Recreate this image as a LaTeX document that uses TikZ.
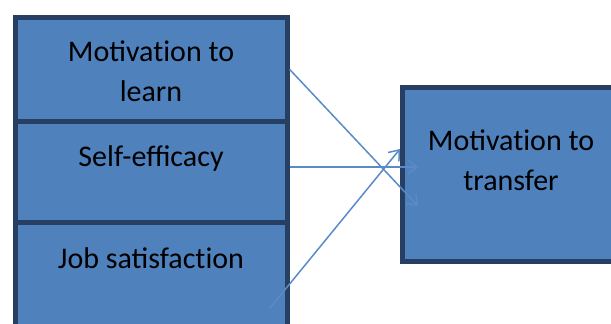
\documentclass[tikz,border=0pt]{standalone}
\usepackage{fontspec}
\setmainfont{Carlito}
\usetikzlibrary{arrows.meta,positioning}
\definecolor{boxfill}{HTML}{4F81BD}
\definecolor{boxline}{HTML}{263F62}
\definecolor{arrowblue}{HTML}{5A8AC8}

\begin{document}
\begin{tikzpicture}[x=1pt,y=-1pt,
  box/.style={draw=boxline, fill=boxfill, line width=5pt, inner sep=0pt},
  txt/.style={font=\fontsize{30}{40}\selectfont, align=center, anchor=north, inner sep=0pt},
  arr/.style={-{Straight Barb[length=9pt,width=14pt]}, draw=arrowblue, line width=1.5pt}
]
\useasboundingbox (0,0) rectangle (611,324);
\clip (0,0) rectangle (611,324);
% left column
\node[box, minimum width=271.5pt, minimum height=104.5pt] (learn) at (151.25,69.25) {};
\node[box, minimum width=271.5pt, minimum height=100.5pt] (efficacy) at (151.25,171.75) {};
\node[box, minimum width=271.5pt, minimum height=110pt] (satisf) at (151.25,277) {};
\node[txt] (learntxt) at (151,40.5) {Motivat\kern0pt ion to\\learn};
\node[txt] (efficacytxt) at (151,145.5) {Self-efficacy};
\node[txt] (satisftxt) at (151,247) {Job satisfact\kern0pt ion};
% outcome
\node[box, minimum width=217pt, minimum height=173.5pt] (transfer) at (511,174.25) {};
\node[txt] (transfertxt) at (511,130) {Motivat\kern0pt ion to\\transfer};
% connectors
\coordinate (tip1) at (418,206);
\coordinate (tip2) at (418,167);
\coordinate (tip3) at (400,149);
\coordinate (foot3) at (270,308);
\draw[arr] (learn.east) -- (tip1);
\draw[arr] ([yshift=4.75pt]efficacy.east) -- (tip2);
\draw[arr] (foot3) -- (tip3);
\end{tikzpicture}
\end{document}
